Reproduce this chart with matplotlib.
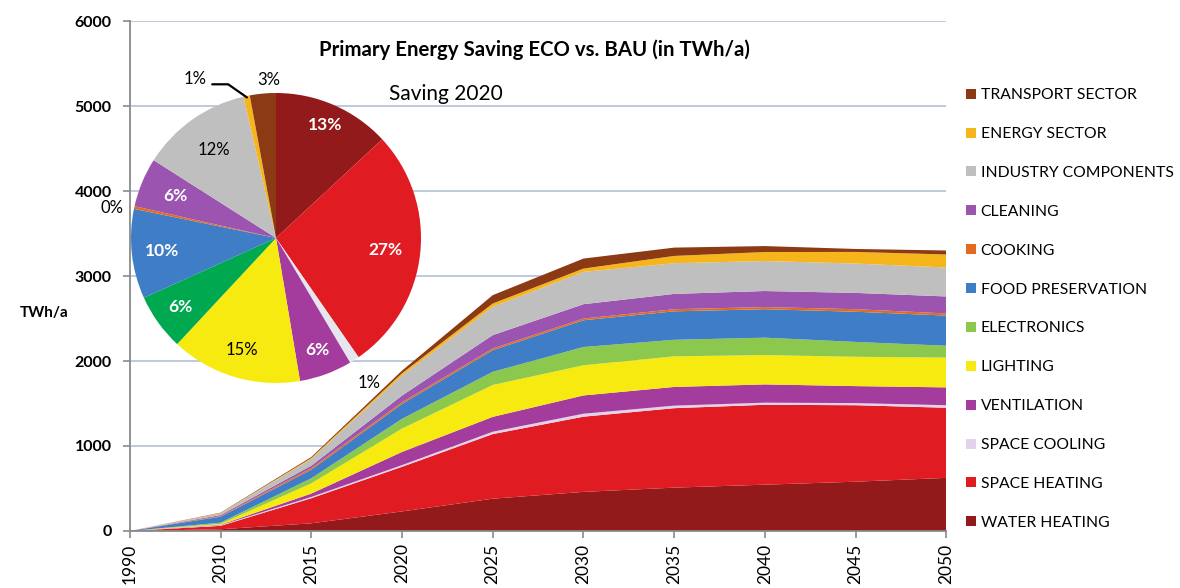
import numpy as np
import matplotlib.pyplot as plt
from matplotlib.patches import Patch

plt.rcParams['font.family'] = ['Lato', 'DejaVu Sans']

# years on the category axis
years = ['1990', '2010', '2015', '2020', '2025', '2030', '2035', '2040', '2045', '2050']

# saving per end use in TWh/a (stacked from bottom)
water_heating = [0, 20, 90, 230, 380, 460, 510, 545, 580, 625]
space_heating = [0, 40, 295, 525, 760, 885, 935, 940, 900, 825]
space_cooling = [0, 8, 15, 20, 28, 35, 30, 25, 25, 30]
ventilation = [0, 5, 40, 155, 175, 215, 220, 215, 200, 210]
lighting = [0, 10, 120, 275, 375, 355, 360, 345, 345, 350]
electronics = [0, 15, 60, 115, 155, 215, 195, 205, 175, 140]
food_preservation = [0, 70, 100, 175, 255, 315, 335, 335, 355, 355]
cooking = [0, 7, 20, 20, 20, 20, 25, 25, 30, 25]
cleaning = [0, 12, 28, 78, 157, 169, 180, 189, 192, 200]
industry_components = [0, 20, 78, 235, 333, 380, 361, 353, 345, 341]
energy_sector = [0, 4, 12, 28, 39, 39, 86, 106, 137, 153]
transport_sector = [0, 4, 12, 31, 98, 118, 98, 70, 35, 47]

series_names = ['WATER HEATING', 'SPACE HEATING', 'SPACE COOLING', 'VENTILATION',
                'LIGHTING', 'ELECTRONICS', 'FOOD PRESERVATION', 'COOKING',
                'CLEANING', 'INDUSTRY COMPONENTS', 'ENERGY SECTOR', 'TRANSPORT SECTOR']
series_values = [water_heating, space_heating, space_cooling, ventilation, lighting,
                 electronics, food_preservation, cooking, cleaning,
                 industry_components, energy_sector, transport_sector]
colors = ['#921A1B', '#E01B22', '#E3D3EA', '#A43C9E', '#F7EA10', '#8DC84E',
          '#3F7DC6', '#E36B1E', '#9B55B0', '#BFBFBF', '#F6B61B', '#8C3A14']

# pie: share of saving in 2020 (%), clockwise from 12 o'clock
pie_share = [13.1, 27.3, 1.1, 5.9, 14.6, 6.3, 10.0, 0.3, 5.5, 12.4, 0.7, 2.9]
pie_labels = ['13%', '27%', '1%', '6%', '15%', '6%', '10%', '0%', '6%', '12%', '1%', '3%']
pie_colors = ['#921A1B', '#E01B22', '#E6E6EE', '#A43C9E', '#F7EA10', '#00A850',
              '#3F7DC6', '#E36B1E', '#9B55B0', '#BFBFBF', '#F6B61B', '#8C3A14']

fig = plt.figure(figsize=(11.8, 5.88), dpi=100)
ax = fig.add_axes([0.110, 0.097, 0.692, 0.867])

x = np.arange(len(years))
ax.stackplot(x, *series_values, colors=colors, linewidth=0)

ax.set_xlim(0, len(years) - 1)
ax.set_ylim(0, 6000)
ax.set_yticks(range(0, 6001, 1000))
ax.set_xticks(x)
ax.set_xticklabels(years, rotation=90, fontsize=12.5)
for lab in ax.get_yticklabels():
    lab.set_fontweight('bold')
    lab.set_fontsize(11.5)
ax.yaxis.grid(True, color='#B9C6D8', linewidth=1.3)
ax.set_axisbelow(True)
for s in ['top', 'right']:
    ax.spines[s].set_visible(False)
for s in ['left', 'bottom']:
    ax.spines[s].set_color('#8A8A8A')
    ax.spines[s].set_linewidth(1.3)
ax.tick_params(colors='#8A8A8A', labelcolor='black', length=5, width=1.2)
ax.tick_params(axis='y', pad=8)
ax.tick_params(axis='x', pad=4)

fig.text(0.017, 0.467, 'TWh/a', fontsize=11, fontweight='bold', va='center')
fig.text(0.453, 0.915, 'Primary Energy Saving ECO vs. BAU (in TWh/a)',
         fontsize=14.7, fontweight='bold', ha='center', va='center')
fig.text(0.330, 0.84, 'Saving 2020', fontsize=15, va='center')

handles = [Patch(facecolor=c, edgecolor='none') for c in colors]
fig.legend(handles[::-1], series_names[::-1], loc='upper left',
           bbox_to_anchor=(0.819, 0.850), frameon=False, fontsize=11.3,
           handlelength=0.6, handleheight=0.6, handletextpad=0.3,
           labelspacing=1.585, borderaxespad=0, borderpad=0)

# pie inset
pax = fig.add_axes([131 / 1180, 1 - 383 / 588, 290 / 1180, 290 / 588])
wedges, _ = pax.pie(pie_share, colors=pie_colors, startangle=90, counterclock=False,
                    radius=1.0, wedgeprops=dict(linewidth=0))
pax.set_xlim(-1, 1)
pax.set_ylim(-1, 1)
pax.set_aspect('equal')
pax.axis('off')

# label distance from centre for labels inside; explicit spots for outside ones
label_r = [0.85, 0.76, 1.19, 0.82, 0.81, 0.81, 0.79, None, 0.75, 0.74, None, None]
outside_pos = {7: (-1.13, 0.21), 10: (-0.56, 1.10), 11: (-0.05, 1.09)}
label_white = [True, True, False, True, False, True, True, False, True, False, False, False]
for i, (w, lab, r, wh) in enumerate(zip(wedges, pie_labels, label_r, label_white)):
    ang = np.deg2rad((w.theta1 + w.theta2) / 2)
    if r is None:
        px, py = outside_pos[i]
    else:
        px, py = np.cos(ang) * r, np.sin(ang) * r
    pax.text(px, py, lab, ha='center', va='center',
             fontsize=12.5 if wh else 12,
             color='white' if wh else 'black',
             fontweight='bold' if wh else 'normal')
    if i == 10:
        # leader line: short flat run, then down to the thin wedge
        pax.annotate('', xy=(np.cos(ang) * 0.99, np.sin(ang) * 0.99),
                     xytext=(px + 0.12, py - 0.04),
                     arrowprops=dict(arrowstyle='-', color='black', lw=1.6,
                                     shrinkA=0, shrinkB=0,
                                     connectionstyle='angle,angleA=0,angleB=-35,rad=0'),
                     annotation_clip=False)

fig.savefig('out.png', dpi=100)
